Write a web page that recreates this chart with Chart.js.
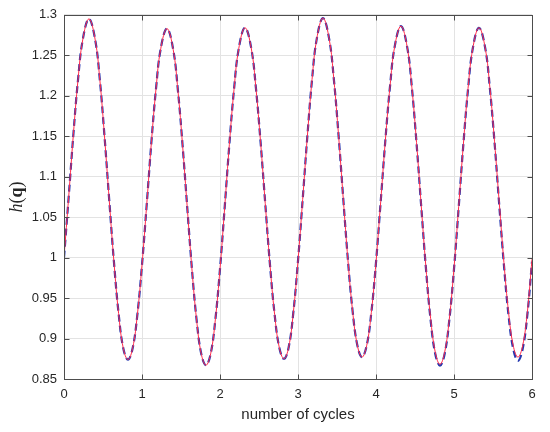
<!DOCTYPE html>
<html>
<head>
<meta charset="utf-8">
<script src="https://cdn.jsdelivr.net/npm/chart.js@4"></script>
<style>
  html, body { margin: 0; padding: 0; background: #ffffff; }
  #chart { display: block; }
</style>
</head>
<body>
<canvas id="chart" width="550" height="432"></canvas>
<script>
// number of cycles (x positions of the samples)
var cycles = [
    0, 0.06, 0.12, 0.18, 0.24, 0.32, 0.40, 0.46, 0.52, 0.58, 0.64, 0.70, 0.76, 0.82, 0.88, 0.94,
    1, 1.06, 1.12, 1.18, 1.24, 1.32, 1.40, 1.46, 1.52, 1.58, 1.64, 1.70, 1.76, 1.82, 1.88, 1.94,
    2, 2.06, 2.12, 2.18, 2.24, 2.32, 2.40, 2.46, 2.52, 2.58, 2.64, 2.70, 2.76, 2.82, 2.88, 2.94,
    3, 3.06, 3.12, 3.18, 3.24, 3.32, 3.40, 3.46, 3.52, 3.58, 3.64, 3.70, 3.76, 3.82, 3.88, 3.94,
    4, 4.06, 4.12, 4.18, 4.24, 4.32, 4.40, 4.46, 4.52, 4.58, 4.64, 4.70, 4.76, 4.82, 4.88, 4.94,
    5, 5.06, 5.12, 5.18, 5.24, 5.32, 5.40, 5.46, 5.52, 5.58, 5.64, 5.70, 5.76, 5.82, 5.88, 5.94,
    6
];

// h(q), red solid curve
var hRed = [
    1.000, 1.075, 1.152, 1.220, 1.269, 1.295, 1.269, 1.219, 1.149, 1.071, 0.995, 0.931, 0.888, 0.874, 0.888, 0.929,
    0.991, 1.065, 1.142, 1.209, 1.258, 1.283, 1.257, 1.207, 1.139, 1.062, 0.986, 0.923, 0.881, 0.867, 0.881, 0.923,
    0.986, 1.062, 1.140, 1.208, 1.258, 1.284, 1.259, 1.210, 1.143, 1.067, 0.992, 0.930, 0.889, 0.875, 0.889, 0.932,
    0.996, 1.072, 1.150, 1.220, 1.270, 1.296, 1.270, 1.220, 1.151, 1.073, 0.997, 0.934, 0.892, 0.877, 0.891, 0.932,
    0.994, 1.069, 1.145, 1.212, 1.261, 1.286, 1.260, 1.210, 1.142, 1.064, 0.988, 0.925, 0.883, 0.868, 0.883, 0.924,
    0.987, 1.063, 1.140, 1.209, 1.258, 1.284, 1.259, 1.210, 1.143, 1.068, 0.994, 0.932, 0.891, 0.877, 0.891, 0.932,
    0.998
];

// h(q), blue dashed curve
var hBlue = [
    1.000, 1.075, 1.152, 1.220, 1.269, 1.295, 1.269, 1.219, 1.149, 1.071, 0.995, 0.931, 0.888, 0.874, 0.888, 0.929,
    0.991, 1.065, 1.142, 1.209, 1.258, 1.283, 1.257, 1.207, 1.139, 1.062, 0.986, 0.923, 0.881, 0.867, 0.881, 0.923,
    0.986, 1.062, 1.140, 1.208, 1.258, 1.284, 1.259, 1.210, 1.143, 1.067, 0.992, 0.930, 0.889, 0.875, 0.889, 0.932,
    0.996, 1.072, 1.150, 1.220, 1.270, 1.296, 1.270, 1.220, 1.151, 1.073, 0.997, 0.934, 0.892, 0.877, 0.891, 0.932,
    0.994, 1.069, 1.145, 1.212, 1.261, 1.286, 1.260, 1.210, 1.141, 1.063, 0.987, 0.923, 0.881, 0.8665, 0.881, 0.923,
    0.986, 1.062, 1.140, 1.208, 1.258, 1.284, 1.259, 1.209, 1.142, 1.065, 0.991, 0.928, 0.887, 0.8725, 0.887, 0.929,
    0.995
];

var xTicks = [0, 1, 2, 3, 4, 5, 6];
var yTicks = [0.85, 0.9, 0.95, 1, 1.05, 1.1, 1.15, 1.2, 1.25, 1.3];

function pairs(xs, ys) {
    var out = [];
    for (var i = 0; i < xs.length; i++) out.push({ x: xs[i], y: ys[i] });
    return out;
}

var axisColor = '#262626';
var fontFamily = '"Liberation Sans", Arial, Helvetica, sans-serif';

// MATLAB style box, inward ticks and axis titles
var matlabAxes = {
    id: 'matlabAxes',
    afterDraw: function (chart) {
        var ctx = chart.ctx;
        var a = chart.chartArea;
        var xs = chart.scales.x, ys = chart.scales.y;
        var L = Math.round(a.left) + 0.5, R = Math.round(a.right) + 0.5;
        var T = Math.round(a.top) + 0.5, B = Math.round(a.bottom) + 0.5;
        ctx.save();
        ctx.strokeStyle = '#4d4d4d';
        ctx.lineWidth = 1;
        ctx.strokeRect(L, T, R - L, B - T);
        ctx.beginPath();
        xTicks.forEach(function (v) {
            var px = Math.round(xs.getPixelForValue(v)) + 0.5;
            ctx.moveTo(px, B); ctx.lineTo(px, B - 5);
            ctx.moveTo(px, T); ctx.lineTo(px, T + 5);
        });
        yTicks.forEach(function (v) {
            var py = Math.round(ys.getPixelForValue(v)) + 0.5;
            ctx.moveTo(L, py); ctx.lineTo(L + 5, py);
            ctx.moveTo(R, py); ctx.lineTo(R - 5, py);
        });
        ctx.stroke();

        // x title
        ctx.fillStyle = axisColor;
        ctx.font = '15px ' + fontFamily;
        ctx.textAlign = 'center';
        ctx.textBaseline = 'alphabetic';
        ctx.fillText('number of cycles', (a.left + a.right) / 2, 419);

        // y title: h(q) with italic h and bold q
        var parts = [
            { t: 'h', f: 'italic 18px "Liberation Serif", "Times New Roman", serif' },
            { t: '(', f: '18px "Liberation Serif", "Times New Roman", serif' },
            { t: 'q', f: 'bold 18px "Liberation Serif", "Times New Roman", serif' },
            { t: ')', f: '18px "Liberation Serif", "Times New Roman", serif' }
        ];
        var total = 0;
        parts.forEach(function (p) { ctx.font = p.f; p.w = ctx.measureText(p.t).width; total += p.w; });
        ctx.translate(22, (a.top + a.bottom) / 2);
        ctx.rotate(-Math.PI / 2);
        ctx.textAlign = 'left';
        var cx = -total / 2;
        parts.forEach(function (p) {
            ctx.font = p.f;
            ctx.fillText(p.t, cx, 0);
            cx += p.w;
        });
        ctx.restore();
    }
};

var ctx = document.getElementById('chart').getContext('2d');
var myChart = new Chart(ctx, {
    type: 'line',
    data: {
        datasets: [{
            label: 'red',
            data: pairs(cycles, hRed),
            borderColor: '#ff2a4a',
            borderWidth: 1,
            pointRadius: 0,
            tension: 0.4,
            fill: false
        },
        {
            label: 'blue',
            data: pairs(cycles, hBlue),
            borderColor: '#2438b0',
            borderWidth: 2.2,
            borderDash: [7, 4],
            pointRadius: 0,
            tension: 0.4,
            fill: false
        }]
    },
    options: {
        responsive: false,
        animation: false,
        devicePixelRatio: 1,
        layout: { padding: { top: 10, right: 18, left: 0, bottom: 0 } },
        plugins: {
            legend: { display: false },
            tooltip: { enabled: false }
        },
        scales: {
            x: {
                type: 'linear',
                min: 0,
                max: 6,
                afterFit: function (scale) { scale.height = 53; },
                afterBuildTicks: function (scale) {
                    scale.ticks = xTicks.map(function (v) { return { value: v }; });
                },
                grid: { color: '#e3e3e3', drawTicks: false },
                border: { display: false },
                ticks: {
                    padding: 8,
                    color: axisColor,
                    font: { family: fontFamily, size: 13 },
                    callback: function (v) { return String(v); }
                }
            },
            y: {
                min: 0.85,
                max: 1.3,
                afterFit: function (scale) { scale.width = 64; },
                afterBuildTicks: function (scale) {
                    scale.ticks = yTicks.map(function (v) { return { value: v }; });
                },
                grid: { color: '#e3e3e3', drawTicks: false },
                border: { display: false },
                ticks: {
                    padding: 7,
                    color: axisColor,
                    font: { family: fontFamily, size: 13 },
                    callback: function (v) { return String(Number(v.toFixed(2))); }
                }
            }
        }
    },
    plugins: [matlabAxes]
});
</script>
</body>
</html>
